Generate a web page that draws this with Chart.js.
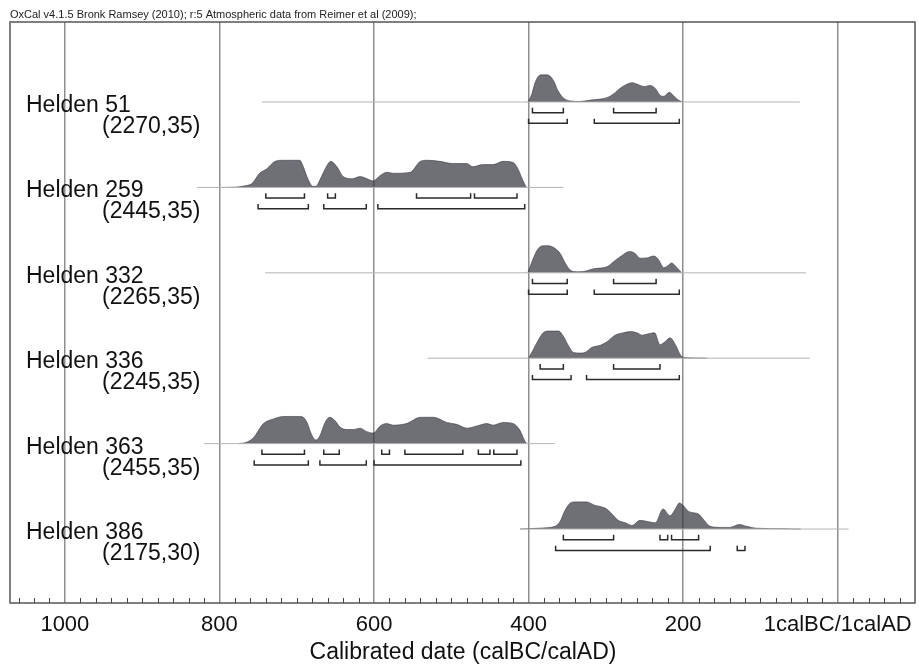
<!DOCTYPE html>
<html><head><meta charset="utf-8">
<script src="https://cdn.jsdelivr.net/npm/chart.js@4"></script>
<style>html,body{margin:0;padding:0;background:#fff}canvas{display:block}</style>
</head><body>
<canvas id="c" width="919" height="664"></canvas>
<script>
// ---- Data (years are cal BC; densities relative to each peak) ----
const sampleNames = ['Helden 51','Helden 259','Helden 332','Helden 336','Helden 363','Helden 386'];
const sampleDates = ['(2270,35)','(2445,35)','(2265,35)','(2245,35)','(2455,35)','(2175,30)'];

const h51Years = [401,396,392,388,384,377,372,367,362,355,346,333,320,307,297,289,282,274,266,258,250,243,236,230,225,218,213,208,201];
const h51Dens  = [0,0.28,0.68,0.92,1.0,1.0,0.95,0.75,0.42,0.15,0.04,0.02,0.07,0.11,0.18,0.32,0.5,0.64,0.71,0.64,0.57,0.61,0.5,0.25,0.21,0.36,0.25,0.11,0];

const h259Years = [797,780,767,758,748,739,728,718,696,692,685,679,675,670,661,656,648,640,628,618,609,601,592,583,575,553,540,531,515,498,480,472,459,446,433,420,414,408,403];
const h259Dens  = [0,0.01,0.06,0.14,0.52,0.68,0.96,1.0,1.0,0.8,0.28,0.04,0.04,0.28,0.8,0.96,0.76,0.4,0.32,0.4,0.32,0.24,0.44,0.56,0.52,0.56,0.96,1.0,0.96,0.88,0.88,0.76,0.84,0.84,0.96,0.92,0.7,0.3,0];

const h332Years = [401,396,389,383,376,368,359,353,346,338,329,316,299,290,282,269,262,256,247,238,232,225,221,215,208,202];
const h332Dens  = [0,0.38,0.83,0.99,1.0,0.94,0.71,0.38,0.1,0.04,0.05,0.15,0.22,0.41,0.58,0.79,0.71,0.54,0.55,0.62,0.49,0.19,0.23,0.36,0.19,0];

const h336Years = [400,394,387,381,374,361,355,348,342,333,327,318,307,299,288,277,268,260,253,245,237,230,223,217,210,203,197,177,169];
const h336Dens  = [0,0.31,0.69,0.94,1.0,1.0,0.81,0.44,0.21,0.19,0.21,0.4,0.48,0.6,0.85,0.94,0.98,0.94,0.85,0.9,0.94,0.5,0.62,0.75,0.5,0.1,0.02,0.01,0];

const h363Years = [776,765,756,743,730,717,694,687,681,675,670,663,657,650,644,635,627,618,610,601,592,584,575,558,540,523,506,493,480,467,454,446,433,420,411,404,402];
const h363Dens  = [0,0.05,0.22,0.74,0.91,1.0,1.0,0.8,0.35,0.13,0.29,0.8,0.97,0.83,0.61,0.52,0.52,0.57,0.45,0.39,0.65,0.74,0.68,0.74,0.97,0.97,0.78,0.71,0.57,0.65,0.74,0.68,0.78,0.74,0.48,0.05,0];

const h386Years = [411,381,366,359,353,346,340,325,314,307,299,292,284,275,266,256,245,236,226,217,210,205,200,193,180,174,165,152,140,127,118,105,70,48];
const h386Dens  = [0,0.04,0.1,0.29,0.68,0.96,1.0,1.0,0.87,0.83,0.74,0.55,0.32,0.23,0.13,0.32,0.27,0.23,0.74,0.49,0.74,0.96,0.87,0.65,0.55,0.36,0.1,0.06,0.06,0.17,0.1,0.03,0.01,0];

// thin horizontal extent lines [from, to] in cal BC (negative = AD)
const extentLines = [[745,49],[829,355],[741,41],[531,36],[820,366],[411,-14]];

// 68.2% and 95.4% ranges, cal BC
const r68 = [
  [[395,355],[290,235]],
  [[740,690],[660,650],[545,475],[470,415]],
  [[395,350],[290,235]],
  [[385,355],[290,230]],
  [[745,690],[665,645],[590,580],[560,485],[465,450],[445,415]],
  [[355,290],[230,220],[215,180]]
];
const r95 = [
  [[400,350],[315,205]],
  [[750,685],[665,610],[595,405]],
  [[400,350],[315,205]],
  [[395,345],[325,205]],
  [[755,685],[670,610],[600,410]],
  [[365,165],[130,120]]
];

const axisTicks = [-1000,-800,-600,-400,-200,0];

// ---- Build datasets ----
const yearsList = [h51Years,h259Years,h332Years,h336Years,h363Years,h386Years];
const densList  = [h51Dens,h259Dens,h332Dens,h336Dens,h363Dens,h386Dens];
const ROW0 = 0.937, PEAK = 0.318;
const B1a = 0.068, B1b = 0.125, B2a = 0.195, B2b = 0.250;
const datasets = [];
sampleNames.forEach((n,i)=>{
  const base = ROW0 + i;
  datasets.push({
    data: extentLines[i].map(v=>({x:-v,y:base})),
    borderColor:'#b4b4b4', borderWidth:1, pointRadius:0, fill:false, tension:0
  });
  datasets.push({
    data: yearsList[i].map((v,k)=>({x:-v,y:base - densList[i][k]*PEAK})),
    borderColor:'rgba(55,55,65,0.72)', borderWidth:0.8, backgroundColor:'rgba(55,55,65,0.72)',
    pointRadius:0, fill:{value:base}, tension:0.35, cubicInterpolationMode:'monotone'
  });
  const mk = (ranges,a,b)=>{
    const pts=[];
    ranges.forEach(r=>{
      pts.push({x:-r[0],y:base+a},{x:-r[0],y:base+b},{x:-r[1],y:base+b},{x:-r[1],y:base+a},{x:-r[1],y:null});
    });
    return {data:pts, borderColor:'#2a2a2a', borderWidth:1.5, pointRadius:0, fill:false, tension:0, spanGaps:false};
  };
  datasets.push(mk(r68[i],B1a,B1b));
  datasets.push(mk(r95[i],B2a,B2b));
});

const FONT = '"Liberation Sans", Arial, sans-serif';
const decor = {
  id:'decor',
  afterDraw(chart){
    const ctx = chart.ctx, xs = chart.scales.x, ys = chart.scales.y, ca = chart.chartArea;
    ctx.save();
    // frame
    ctx.strokeStyle = '#555'; ctx.lineWidth = 1.5;
    ctx.strokeRect(ca.left, ca.top, ca.right-ca.left, ca.bottom-ca.top);
    // minor ticks
    ctx.strokeStyle = '#444'; ctx.lineWidth = 1;
    for (let v=-1060; v<=100; v+=20){
      if (v % 200 === 0) continue;
      const x = Math.round(xs.getPixelForValue(v))+0.5;
      if (x<ca.left||x>ca.right) continue;
      ctx.beginPath(); ctx.moveTo(x,ca.bottom); ctx.lineTo(x,ca.bottom-5); ctx.stroke();
    }
    // tick labels
    ctx.fillStyle = '#111'; ctx.textAlign='center'; ctx.textBaseline='alphabetic';
    ctx.font = '22px '+FONT;
    axisTicks.forEach(v=>{
      const lab = v===0 ? '1calBC/1calAD' : String(Math.abs(v));
      ctx.fillText(lab, xs.getPixelForValue(v), ca.bottom+28);
    });
    ctx.font = '23px '+FONT;
    ctx.fillText('Calibrated date (calBC/calAD)', 463, ca.bottom+56);
    // header
    ctx.textAlign='left'; ctx.font='11px '+FONT; ctx.fillStyle='#222';
    ctx.fillText('OxCal v4.1.5 Bronk Ramsey (2010); r:5 Atmospheric data from Reimer et al (2009);', 10, 18);
    // sample labels
    ctx.font = '23px '+FONT; ctx.fillStyle='#111';
    sampleNames.forEach((n,i)=>{
      const yb = ys.getPixelForValue(ROW0+i);
      ctx.fillText(n, 26, yb+10);
      ctx.fillText(sampleDates[i], 102, yb+31);
    });
    ctx.restore();
  }
};

new Chart(document.getElementById('c'), {
  type:'line',
  data:{datasets},
  options:{
    responsive:false, animation:false, devicePixelRatio:1,
    layout:{padding:{left:10,right:4,top:22,bottom:61}},
    plugins:{legend:{display:false}, tooltip:{enabled:false}},
    scales:{
      x:{type:'linear', min:-1071, max:100,
        afterBuildTicks:s=>{ s.ticks = axisTicks.map(v=>({value:v})); },
        afterFit:s=>{ s.height = 0; },
        ticks:{display:false},
        grid:{color:'#8e8e8e', lineWidth:1.5, drawTicks:false},
        border:{display:false}
      },
      y:{type:'linear', reverse:true, min:0, max:6.803, display:false}
    }
  },
  plugins:[decor]
});
</script>
</body></html>
